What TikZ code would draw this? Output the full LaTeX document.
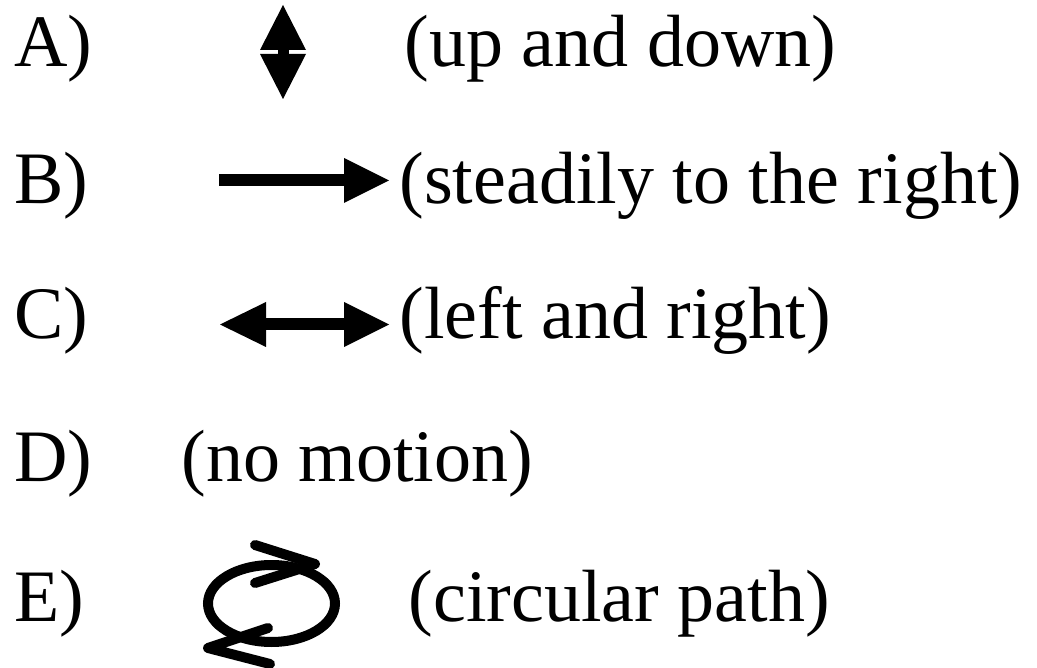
\documentclass[tikz,border=0pt]{standalone}
\usepackage{fontspec}
\setmainfont{Liberation Serif}
\begin{document}
\begin{tikzpicture}[x=1pt,y=-1pt,
  txt/.style={anchor=base west,inner sep=0pt,outer sep=0pt,font=\fontsize{74}{80}\selectfont},
  chev/.style={line width=10pt,line cap=round,line join=round}]
\useasboundingbox (0,0) rectangle (1037,668);
% labels
\node[txt] (la) at (14,67) {A)};
\node[txt] (lb) at (14,204) {B)};
\node[txt] (lc) at (14,339) {C)};
\node[txt] (ld) at (14,482) {D)};
\node[txt] (le) at (14,621) {E)};
% descriptions
\node[txt] (ta) at (404.5,67) {(up and down)};
\node[txt] (tb) at (399.5,204) {(steadily to the right)};
\node[txt] (tc) at (399.5,339) {(left and right)};
\node[txt] (td) at (181.5,482) {(no motion)};
\node[txt] (te) at (408.5,621) {(circular path)};
% A: up and down
\fill (260,50) -- (306,50) -- (283,5) -- cycle;
\fill (260,54) -- (306,54) -- (283,99) -- cycle;
\fill (278,50) rectangle (289,54);
% B: steadily right
\coordinate (b1) at (219,180.5);
\coordinate (b2) at (344,180.5);
\fill (219,174.5) rectangle (345,186.5);
\fill (344,158) -- (344,203) -- (389,180.5) -- cycle;
% C: left and right
\fill (265,318.5) rectangle (345,330.5);
\fill (266,302) -- (266,347) -- (220,324.5) -- cycle;
\fill (344,302) -- (344,347) -- (389,324.5) -- cycle;
% E: circular path
\coordinate (ec) at (271.5,603.5);
\draw[line width=10pt] (ec) ellipse [x radius=63.5, y radius=38.5];
\draw[chev] (255,545) -- (315,564) -- (255,583);
\draw[chev] (268,628) -- (208,648) -- (270,664);
\end{tikzpicture}
\end{document}
